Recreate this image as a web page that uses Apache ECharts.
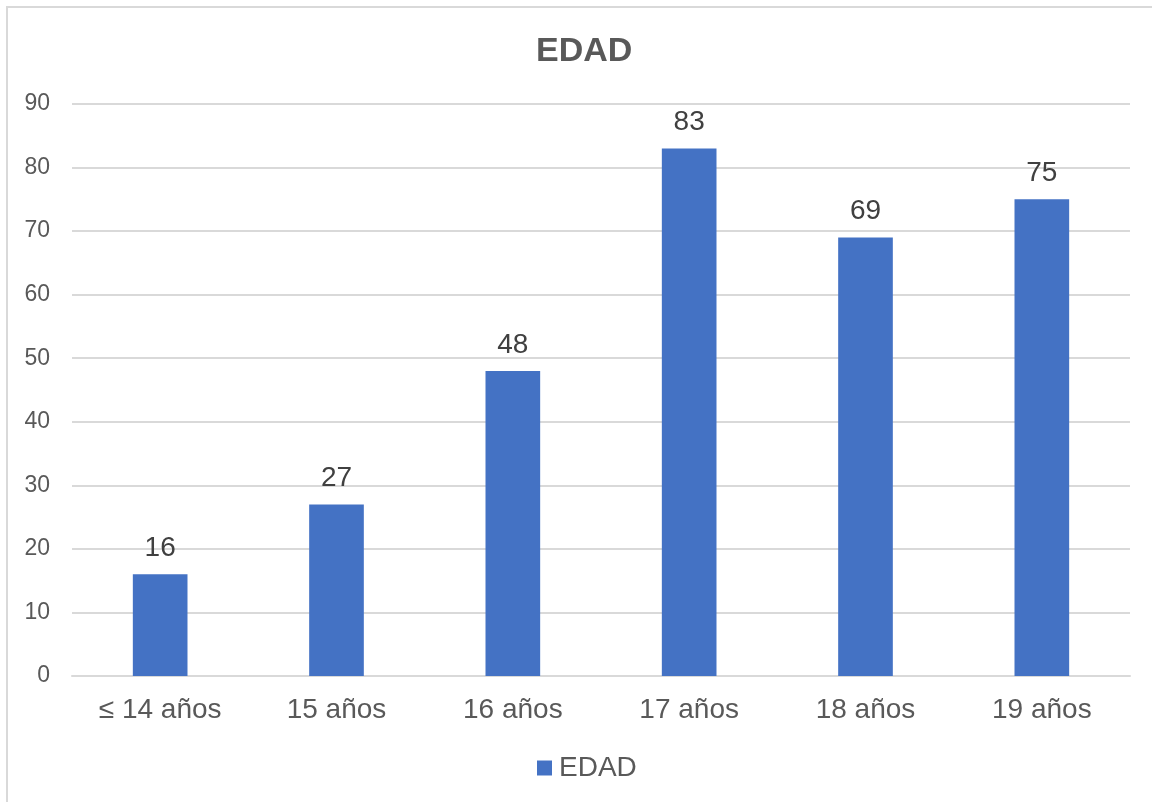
<!DOCTYPE html>
<html>
<head>
<meta charset="utf-8">
<script src="https://cdn.jsdelivr.net/npm/echarts@6/dist/echarts.min.js"></script>
<style>
html,body{margin:0;padding:0;background:#fff;overflow:hidden;}
#frame{position:absolute;left:6px;top:6px;width:1300px;height:900px;border:2px solid #d9d9d9;box-sizing:border-box;}
#chart{position:absolute;left:0;top:0;width:1152px;height:802px;}
</style>
</head>
<body>
<div id="frame"></div>
<div id="chart"></div>
<script>
const categories = ["≤ 14 años", "15 años", "16 años", "17 años", "18 años", "19 años"];
const edadValues = [16, 27, 48, 83, 69, 75];
const seriesName = "EDAD";
const chartTitle = "EDAD";

const chart = echarts.init(document.getElementById('chart'));
chart.setOption({
  animation: false,
  backgroundColor: 'transparent',
  title: {
    text: chartTitle,
    left: 531,
    top: 30,
    textStyle: {fontFamily: 'Liberation Sans, Arial', fontSize: 34, fontWeight: 'bold', color: '#595959'}
  },
  legend: {
    bottom: 15,
    left: 532,
    itemWidth: 15,
    itemHeight: 15,
    itemGap: 8,
    icon: 'rect',
    textStyle: {fontFamily: 'Liberation Sans, Arial', fontSize: 28, color: '#595959', padding: [0, 0, 0, 2]},
    data: [seriesName]
  },
  grid: {left: 72, right: 22, top: 104, bottom: 126, containLabel: false},
  xAxis: {
    type: 'category',
    data: categories,
    axisTick: {show: false},
    axisLine: {lineStyle: {color: '#d9d9d9', width: 2}},
    axisLabel: {fontFamily: 'Liberation Sans, Arial', fontSize: 28, color: '#595959', margin: 20}
  },
  yAxis: {
    type: 'value',
    min: 0, max: 90, interval: 10,
    axisLine: {show: false},
    axisTick: {show: false},
    splitLine: {lineStyle: {color: '#d9d9d9', width: 2}},
    axisLabel: {fontFamily: 'Liberation Sans, Arial', fontSize: 23, color: '#595959', margin: 22}
  },
  series: [{
    name: seriesName,
    type: 'bar',
    data: edadValues,
    barWidth: '31%',
    itemStyle: {color: '#4472c4'},
    label: {
      show: true,
      position: 'top',
      distance: 12,
      fontFamily: 'Liberation Sans, Arial',
      fontSize: 28,
      color: '#404040'
    }
  }]
});
</script>
</body>
</html>
